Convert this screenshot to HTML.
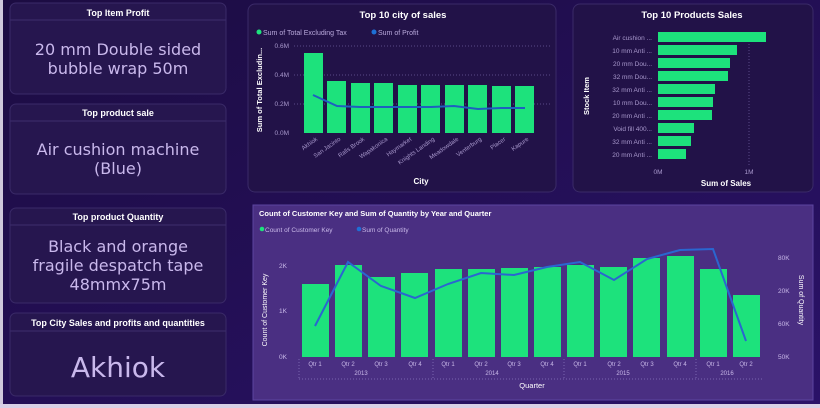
<!DOCTYPE html>
<html><head><meta charset="utf-8"><style>
html,body{margin:0;padding:0;width:820px;height:408px;overflow:hidden;background:#1d0d45;}
svg{display:block;font-family:"Liberation Sans",sans-serif;}
</style></head><body>
<svg width="820" height="408" viewBox="0 0 820 408">
<defs><linearGradient id="bg" x1="0" y1="0" x2="1" y2="1"><stop offset="0" stop-color="#1c0c42"/><stop offset="1" stop-color="#2a1268"/></linearGradient></defs>
<rect width="820" height="408" fill="url(#bg)"/>
<rect x="0" y="0" width="3" height="408" fill="#cfc8dc"/>
<rect x="0" y="404" width="820" height="4" fill="#d8d0e6"/>
<!-- left cards -->
<g fill="#26164f" stroke="#3a2a68" stroke-width="1">
<rect x="10" y="3" width="216" height="91" rx="6"/>
<rect x="10" y="104" width="216" height="90" rx="6"/>
<rect x="10" y="208" width="216" height="95" rx="6"/>
<rect x="10" y="313" width="216" height="83" rx="6"/>
</g>
<g stroke="#3d2d6c"><line x1="10" y1="20" x2="226" y2="20"/><line x1="10" y1="121" x2="226" y2="121"/><line x1="10" y1="225" x2="226" y2="225"/><line x1="10" y1="331" x2="226" y2="331"/></g>
<g fill="#ffffff" font-size="9" font-weight="bold" text-anchor="middle">
<text x="118" y="16">Top Item Profit</text>
<text x="118" y="116">Top product sale</text>
<text x="118" y="220">Top product Quantity</text>
<text x="118" y="326">Top City Sales and profits and quantities</text>
</g>
<g fill="#c9b8ec" font-size="16" text-anchor="middle" font-family="DejaVu Sans, sans-serif">
<text x="118" y="55">20 mm Double sided</text>
<text x="118" y="74">bubble wrap 50m</text>
<text x="118" y="155">Air cushion machine</text>
<text x="118" y="174">(Blue)</text>
<text x="118" y="252">Black and orange</text>
<text x="118" y="271">fragile despatch tape</text>
<text x="118" y="290">48mmx75m</text>
<text x="118" y="377" font-size="28">Akhiok</text>
</g>
<!-- top mid card -->
<rect x="248" y="4" width="308" height="188" rx="7" fill="#221248" stroke="#3a2a68"/>
<text x="403" y="18" fill="#fff" font-size="9.5" font-weight="bold" text-anchor="middle">Top 10 city of sales</text>
<circle cx="259" cy="32" r="2.5" fill="#1de27c"/><text x="263" y="35" fill="#b9a9dc" font-size="7">Sum of Total Excluding Tax</text>
<circle cx="374" cy="32" r="2.5" fill="#1e6fd6"/><text x="378" y="35" fill="#b9a9dc" font-size="7">Sum of Profit</text>
<g stroke="#5a4a88" stroke-dasharray="1,2"><line x1="294" y1="46" x2="551" y2="46"/><line x1="294" y1="75" x2="551" y2="75"/><line x1="294" y1="104" x2="551" y2="104"/></g>
<g fill="#a898cc" font-size="6.5" text-anchor="end"><text x="289" y="48">0.6M</text><text x="289" y="77">0.4M</text><text x="289" y="106">0.2M</text><text x="289" y="135">0.0M</text></g>
<text transform="translate(262,90) rotate(-90)" fill="#fff" font-size="7.5" font-weight="bold" text-anchor="middle">Sum of Total Excludin...</text>
<g fill="#1de27c">
<rect x="304" y="53" width="19" height="80"/><rect x="327" y="81" width="19" height="52"/><rect x="351" y="83" width="19" height="50"/><rect x="374" y="83" width="19" height="50"/><rect x="398" y="85" width="19" height="48"/><rect x="421" y="85" width="19" height="48"/><rect x="445" y="85" width="19" height="48"/><rect x="468" y="85" width="19" height="48"/><rect x="492" y="86" width="19" height="47"/><rect x="515" y="86" width="19" height="47"/>
</g>
<polyline fill="none" stroke="#1e5fc0" stroke-width="2" points="313,95 337,106 360,107 384,107 407,107 431,107 454,106 478,109 501,108 525,108"/>
<g fill="#a898cc" font-size="6" text-anchor="end">
<text transform="translate(318,140) rotate(-35)">Akhiok</text><text transform="translate(341,140) rotate(-35)">San Jacinto</text><text transform="translate(365,140) rotate(-35)">Ralls Brook</text><text transform="translate(388,140) rotate(-35)">Wapakonica</text><text transform="translate(412,140) rotate(-35)">Haymarket</text><text transform="translate(435,140) rotate(-35)">Knights Landing</text><text transform="translate(459,140) rotate(-35)">Meadowdale</text><text transform="translate(482,140) rotate(-35)">Venterburg</text><text transform="translate(506,140) rotate(-35)">Placer</text><text transform="translate(529,140) rotate(-35)">Kapure</text>
</g>
<text x="421" y="184" fill="#fff" font-size="8" font-weight="bold" text-anchor="middle">City</text>
<!-- top right card -->
<rect x="573" y="4" width="240" height="188" rx="7" fill="#221248" stroke="#3a2a68"/>
<text x="692" y="18" fill="#fff" font-size="9.5" font-weight="bold" text-anchor="middle">Top 10 Products Sales</text>
<line x1="749" y1="32" x2="749" y2="165" stroke="#5a4a88" stroke-dasharray="1,2"/>
<g fill="#1de27c">
<rect x="658" y="32" width="108" height="10"/><rect x="658" y="45" width="79" height="10"/><rect x="658" y="58" width="72" height="10"/><rect x="658" y="71" width="70" height="10"/><rect x="658" y="84" width="57" height="10"/><rect x="658" y="97" width="55" height="10"/><rect x="658" y="110" width="54" height="10"/><rect x="658" y="123" width="36" height="10"/><rect x="658" y="136" width="33" height="10"/><rect x="658" y="149" width="28" height="10"/>
</g>
<g fill="#a898cc" font-size="6.5" text-anchor="end">
<text x="652" y="40">Air cushion ...</text><text x="652" y="53">10 mm Anti ...</text><text x="652" y="66">20 mm Dou...</text><text x="652" y="79">32 mm Dou...</text><text x="652" y="92">32 mm Anti ...</text><text x="652" y="105">10 mm Dou...</text><text x="652" y="118">20 mm Anti ...</text><text x="652" y="131">Void fill 400...</text><text x="652" y="144">32 mm Anti ...</text><text x="652" y="157">20 mm Anti ...</text>
</g>
<g fill="#a898cc" font-size="6.5" text-anchor="middle"><text x="658" y="174">0M</text><text x="749" y="174">1M</text></g>
<text x="726" y="186" fill="#fff" font-size="8" font-weight="bold" text-anchor="middle">Sum of Sales</text>
<text transform="translate(589,96) rotate(-90)" fill="#fff" font-size="7.5" font-weight="bold" text-anchor="middle">Stock Item</text>
<!-- bottom card -->
<rect x="253" y="205" width="560" height="195" fill="#4a2f82" stroke="#5c44a0"/>
<text x="259" y="216" fill="#fff" font-size="7.5" font-weight="bold">Count of Customer Key and Sum of Quantity by Year and Quarter</text>
<circle cx="262" cy="229" r="2.3" fill="#1de27c"/><text x="265" y="232" fill="#c8b8e8" font-size="6.5">Count of Customer Key</text>
<circle cx="359" cy="229" r="2.3" fill="#1e6fd6"/><text x="362" y="232" fill="#c8b8e8" font-size="6.5">Sum of Quantity</text>
<g fill="#c8b8e8" font-size="6.5" text-anchor="end"><text x="287" y="268">2K</text><text x="287" y="313">1K</text><text x="287" y="359">0K</text></g>
<g fill="#c8b8e8" font-size="6.5"><text x="778" y="260">80K</text><text x="778" y="293">20K</text><text x="778" y="326">60K</text><text x="778" y="359">50K</text></g>
<text transform="translate(267,310) rotate(-90)" fill="#fff" font-size="7" text-anchor="middle">Count of Customer Key</text>
<text transform="translate(799,300) rotate(90)" fill="#fff" font-size="7" text-anchor="middle">Sum of Quantity</text>
<g fill="#1de27c">
<rect x="302" y="284" width="27" height="73"/><rect x="335" y="265" width="27" height="92"/><rect x="368" y="277" width="27" height="80"/><rect x="401" y="273" width="27" height="84"/><rect x="435" y="269" width="27" height="88"/><rect x="468" y="269" width="27" height="88"/><rect x="501" y="268" width="27" height="89"/><rect x="534" y="267" width="27" height="90"/><rect x="567" y="265" width="27" height="92"/><rect x="600" y="267" width="27" height="90"/><rect x="633" y="258" width="27" height="99"/><rect x="667" y="256" width="27" height="101"/><rect x="700" y="269" width="27" height="88"/><rect x="733" y="295" width="27" height="62"/>
</g>
<polyline fill="none" stroke="#2a66d0" stroke-width="2" points="315,326 348,262 381,286 415,298 448,284 481,273 514,275 547,267 580,262 614,280 647,259 680,250 713,249 746,341"/>
<g fill="#c8b8e8" font-size="6" text-anchor="middle">
<text x="315" y="366">Qtr 1</text><text x="348" y="366">Qtr 2</text><text x="381" y="366">Qtr 3</text><text x="415" y="366">Qtr 4</text><text x="448" y="366">Qtr 1</text><text x="481" y="366">Qtr 2</text><text x="514" y="366">Qtr 3</text><text x="547" y="366">Qtr 4</text><text x="580" y="366">Qtr 1</text><text x="614" y="366">Qtr 2</text><text x="647" y="366">Qtr 3</text><text x="680" y="366">Qtr 4</text><text x="713" y="366">Qtr 1</text><text x="746" y="366">Qtr 2</text>
<text x="361" y="375">2013</text><text x="492" y="375">2014</text><text x="623" y="375">2015</text><text x="727" y="375">2016</text>
</g>
<g stroke="#7a64b0" stroke-dasharray="1,2"><line x1="299" y1="359" x2="299" y2="379"/><line x1="433" y1="359" x2="433" y2="379"/><line x1="564" y1="359" x2="564" y2="379"/><line x1="696" y1="359" x2="696" y2="379"/><line x1="299" y1="379" x2="763" y2="379"/></g>
<text x="532" y="388" fill="#fff" font-size="7.5" text-anchor="middle">Quarter</text>
</svg>
</body></html>
